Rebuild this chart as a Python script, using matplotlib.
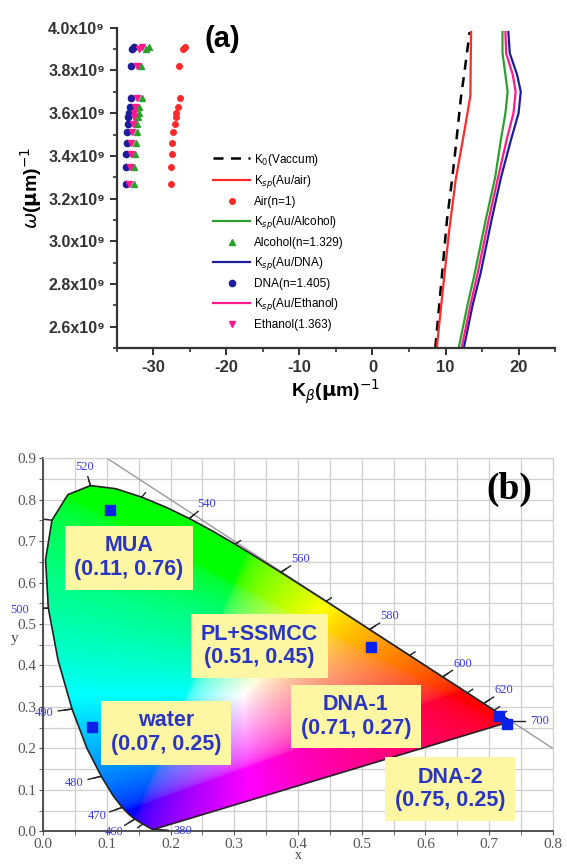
import numpy as np
import matplotlib.pyplot as plt
from matplotlib.patches import Polygon
from matplotlib.ticker import MultipleLocator, FuncFormatter

plt.rcParams['font.family'] = ['Liberation Sans', 'DejaVu Sans']
plt.rcParams['axes.unicode_minus'] = False

# ---------------- panel (a) data ----------------
# omega in units of 1e9 (um)^-1, K in (um)^-1
omega_pts = [3.27, 3.35, 3.41, 3.46, 3.51, 3.55, 3.58, 3.60, 3.63, 3.67, 3.82, 3.90, 3.91]
k_air = [-27.6, -27.6, -27.5, -27.5, -27.3, -27.1, -26.9, -26.9, -26.6, -26.4, -26.5, -26.0, -25.7]
k_alcohol = [-32.7, -32.6, -32.5, -32.4, -32.3, -32.2, -32.1, -32.0, -31.9, -31.6, -31.7, -31.0, -30.6]
k_dna = [-33.8, -33.8, -33.7, -33.6, -33.6, -33.5, -33.4, -33.3, -33.2, -33.0, -33.0, -32.9, -32.6]
k_ethanol = [-33.3, -33.2, -33.1, -33.0, -32.9, -32.8, -32.7, -32.6, -32.5, -32.3, -32.3, -31.9, -31.5]

omega_vac = [2.50, 2.80, 3.10, 3.29, 3.41, 3.54, 3.67, 3.82, 3.98]
k_vac = [8.6, 9.4, 10.2, 10.9, 11.3, 11.7, 12.1, 12.7, 13.3]

omega_air_line = [2.50, 2.73, 3.05, 3.29, 3.50, 3.68, 3.98]
k_sp_air = [8.8, 9.5, 10.5, 11.4, 12.5, 13.4, 13.5]

omega_sp = [2.50, 2.70, 2.85, 3.10, 3.30, 3.48, 3.60, 3.70, 3.78, 3.88, 3.98]
k_sp_alcohol = [11.8, 13.0, 14.0, 15.5, 16.8, 17.6, 18.2, 18.5, 18.2, 17.8, 17.8]
k_sp_ethanol = [12.2, 13.4, 14.4, 15.9, 17.2, 18.4, 19.3, 19.6, 19.2, 18.3, 18.2]
k_sp_dna = [12.5, 13.7, 14.8, 16.3, 17.6, 19.0, 20.0, 20.3, 19.8, 18.8, 18.6]

# ---------------- panel (b) data ----------------
# CIE 1931 spectral locus
wl = [380, 400, 420, 430, 440, 450, 460, 465, 470, 475, 480, 485, 490, 495, 500, 505,
      510, 515, 520, 525, 530, 535, 540, 545, 550, 555, 560, 565, 570, 575, 580, 585,
      590, 595, 600, 610, 620, 630, 640, 650, 660, 680, 700]
cie_x = [0.1741, 0.1733, 0.1714, 0.1689, 0.1644, 0.1566, 0.1440, 0.1355, 0.1241, 0.1096,
         0.0913, 0.0687, 0.0454, 0.0235, 0.0082, 0.0039, 0.0139, 0.0389, 0.0743, 0.1142,
         0.1547, 0.1929, 0.2296, 0.2658, 0.3016, 0.3373, 0.3731, 0.4087, 0.4441, 0.4788,
         0.5125, 0.5448, 0.5752, 0.6029, 0.6270, 0.6658, 0.6915, 0.7079, 0.7190, 0.7260,
         0.7300, 0.7334, 0.7347]
cie_y = [0.0050, 0.0048, 0.0051, 0.0069, 0.0109, 0.0177, 0.0297, 0.0399, 0.0578, 0.0868,
         0.1327, 0.2007, 0.2950, 0.4127, 0.5384, 0.6548, 0.7502, 0.8120, 0.8338, 0.8262,
         0.8059, 0.7816, 0.7543, 0.7243, 0.6923, 0.6589, 0.6245, 0.5896, 0.5547, 0.5202,
         0.4866, 0.4544, 0.4242, 0.3965, 0.3725, 0.3340, 0.3083, 0.2920, 0.2809, 0.2740,
         0.2700, 0.2666, 0.2653]
labeled_wl = [380, 460, 470, 480, 490, 500, 520, 540, 560, 580, 600, 620, 700]

sample_names = ['MUA', 'PL+SSMCC', 'water', 'DNA-1', 'DNA-2']
sample_coords = ['(0.11, 0.76)', '(0.51, 0.45)', '(0.07, 0.25)', '(0.71, 0.27)', '(0.75, 0.25)']
sample_x = [0.105, 0.515, 0.077, 0.715, 0.728]
sample_y = [0.775, 0.445, 0.252, 0.278, 0.258]
box_x = [0.135, 0.340, 0.193, 0.491, 0.639]
box_y = [0.660, 0.447, 0.238, 0.277, 0.102]

fig = plt.figure(figsize=(5.67, 8.66), dpi=100)

# ================= panel (a) =================
ax1 = fig.add_axes([0.206, 0.598, 0.773, 0.370])
ax1.plot(k_vac, omega_vac, color='black', ls=(0, (4, 3)), lw=1.8, label=r'K$_0$(Vaccum)')
ax1.plot(k_sp_air, omega_air_line, color='#ff2a2a', lw=1.6, label=r'K$_{sp}$(Au/air)')
ax1.plot(k_air, omega_pts, ls='none', marker='o', ms=4, color='#ff2a2a', label='Air(n=1)')
ax1.plot(k_sp_alcohol, omega_sp, color='#2ca02c', lw=1.6, label=r'K$_{sp}$(Au/Alcohol)')
ax1.plot(k_alcohol, omega_pts, ls='none', marker='^', ms=4.5, color='#2ca02c', label='Alcohol(n=1.329)')
ax1.plot(k_sp_dna, omega_sp, color='#1c1c9c', lw=1.6, label=r'K$_{sp}$(Au/DNA)')
ax1.plot(k_dna, omega_pts, ls='none', marker='o', ms=4.5, color='#1c1c9c', label='DNA(n=1.405)')
ax1.plot(k_sp_ethanol, omega_sp, color='#ff1a8c', lw=1.6, label=r'K$_{sp}$(Au/Ethanol)')
ax1.plot(k_ethanol, omega_pts, ls='none', marker='v', ms=4.5, color='#ff1a8c', label='Ethanol(1.363)')

ax1.set_xlim(-35, 25)
ax1.set_ylim(2.5, 4.0)
ax1.spines['top'].set_visible(False)
ax1.spines['right'].set_visible(False)
for s in ['left', 'bottom']:
    ax1.spines[s].set_linewidth(1.6)
    ax1.spines[s].set_color('#333333')
ax1.xaxis.set_major_locator(MultipleLocator(10))
ax1.xaxis.set_minor_locator(MultipleLocator(5))
ax1.yaxis.set_major_locator(MultipleLocator(0.2))
ax1.yaxis.set_minor_locator(MultipleLocator(0.1))
ax1.yaxis.set_major_formatter(FuncFormatter(lambda v, p: f'{v:.1f}x10\u2079'))
ax1.tick_params(which='major', length=5, width=1.4, color='#333333')
ax1.tick_params(which='minor', length=3, width=1.2, color='#333333')
ax1.tick_params(axis='x', labelsize=12)
ax1.tick_params(axis='y', labelsize=11.5)
for lab in ax1.get_xticklabels() + ax1.get_yticklabels():
    lab.set_fontweight('bold')
    lab.set_color('#333333')
ax1.set_xlabel(r'K$_\beta$($\mathbf{\mu}$m)$^{-1}$', fontsize=14, fontweight='bold', labelpad=2)
ax1.set_ylabel(r'$\omega$($\mathbf{\mu}$m)$^{-1}$', fontsize=14, fontweight='bold', labelpad=3)
ax1.text(0.24, 0.965, '(a)', transform=ax1.transAxes, fontsize=21, fontweight='bold',
         ha='center', va='center')
ax1.legend(loc='upper left', bbox_to_anchor=(0.375, 0.825), bbox_transform=fig.transFigure,
           frameon=False, fontsize=8.5, labelspacing=0.5, handlelength=3.2,
           handletextpad=0.3, numpoints=1, borderaxespad=0, borderpad=0)

# ================= panel (b) =================
ax2 = fig.add_axes([0.076, 0.04, 0.899, 0.431])
ax2.set_xlim(0, 0.8)
ax2.set_ylim(0, 0.9)

# colour fill of the gamut
gx, gy = np.meshgrid(np.linspace(0, 0.8, 400), np.linspace(0.001, 0.9, 450))
X = gx / gy
Z = (1 - gx - gy) / gy
R = 3.2406 * X - 1.5372 - 0.4986 * Z
G = -0.9689 * X + 1.8758 + 0.0415 * Z
B = 0.0557 * X - 0.2040 + 1.0570 * Z
rgb = np.clip(np.dstack([R, G, B]), 0, None)
rgb = rgb / rgb.max(axis=2, keepdims=True)
rgb = rgb ** (1 / 2.2)

locus = np.column_stack([cie_x, cie_y])
poly = Polygon(locus, closed=True, fc='none', ec='#222222', lw=1.2, zorder=3)
ax2.add_patch(poly)
im = ax2.imshow(rgb, extent=[0, 0.8, 0.001, 0.9], origin='lower', aspect='auto', zorder=2)
im.set_clip_path(poly)

# gray x + y = 1 line
line_x = np.array([0.1, 0.8])
ax2.plot(line_x, 1 - line_x, color='#9a9a9a', lw=1.0, zorder=2.5)

# ticks and labels on the locus
cx = np.array(cie_x)
cy = np.array(cie_y)
for i, w in enumerate(wl):
    i0, i1 = max(i - 1, 0), min(i + 1, len(wl) - 1)
    tx, ty = cx[i1] - cx[i0], cy[i1] - cy[i0]
    nx, ny = -ty, tx
    nn = np.hypot(nx, ny)
    nx, ny = nx / nn, ny / nn
    if (cx[i] - 0.33) * nx + (cy[i] - 0.33) * ny < 0:
        nx, ny = -nx, -ny
    if w == 700:
        nx, ny = 1.0, 0.0
    if w == 380:
        nx, ny = 1.0, -0.1
    if w % 10 == 0 and 450 <= w <= 640:
        ax2.plot([cx[i], cx[i] + 0.012 * nx], [cy[i], cy[i] + 0.012 * ny],
                 color='#222222', lw=1.0, zorder=4)
    if w in labeled_wl:
        ax2.plot([cx[i], cx[i] + 0.022 * nx], [cy[i], cy[i] + 0.022 * ny],
                 color='#222222', lw=1.0, zorder=4)
        ax2.text(cx[i] + 0.045 * nx, cy[i] + 0.045 * ny, str(w), color='#3a3ae6',
                 fontsize=9, family='Liberation Serif', ha='center', va='center',
                 clip_on=False, zorder=5)

# sample points and annotation boxes
ax2.plot(sample_x, sample_y, ls='none', marker='s', ms=7, color='#0a22e8', zorder=6)
for name, crd, bx, by in zip(sample_names, sample_coords, box_x, box_y):
    ax2.text(bx, by, name + '\n' + crd, ha='center', va='center', multialignment='center',
             fontsize=15.5, fontweight='bold', color='#2a35c4', linespacing=1.15, zorder=7,
             bbox=dict(boxstyle='square,pad=0.45', fc='#fdf7a3', ec='none'))

ax2.text(0.915, 0.915, '(b)', transform=ax2.transAxes, fontsize=27, fontweight='bold',
         family='Liberation Serif', ha='center', va='center', zorder=7)

ax2.xaxis.set_major_locator(MultipleLocator(0.1))
ax2.xaxis.set_minor_locator(MultipleLocator(0.05))
ax2.yaxis.set_major_locator(MultipleLocator(0.1))
ax2.yaxis.set_minor_locator(MultipleLocator(0.05))
ax2.grid(which='both', color='#cfcfcf', lw=0.9, zorder=0)
ax2.set_axisbelow(True)
ax2.tick_params(which='both', length=3, color='#555555', labelsize=11, pad=1.5)
for lab in ax2.get_xticklabels() + ax2.get_yticklabels():
    lab.set_family('Liberation Serif')
    lab.set_color('#555555')
for s in ['top', 'right']:
    ax2.spines[s].set_color('#cfcfcf')
for s in ['left', 'bottom']:
    ax2.spines[s].set_color('#444444')
    ax2.spines[s].set_linewidth(1.3)
ax2.set_xlabel('x', family='Liberation Serif', fontsize=10, color='#444444', labelpad=-1)
ax2.set_ylabel('y', family='Liberation Serif', fontsize=11, color='#444444', labelpad=2,
               rotation=0)

fig.savefig('out.png', dpi=100)
